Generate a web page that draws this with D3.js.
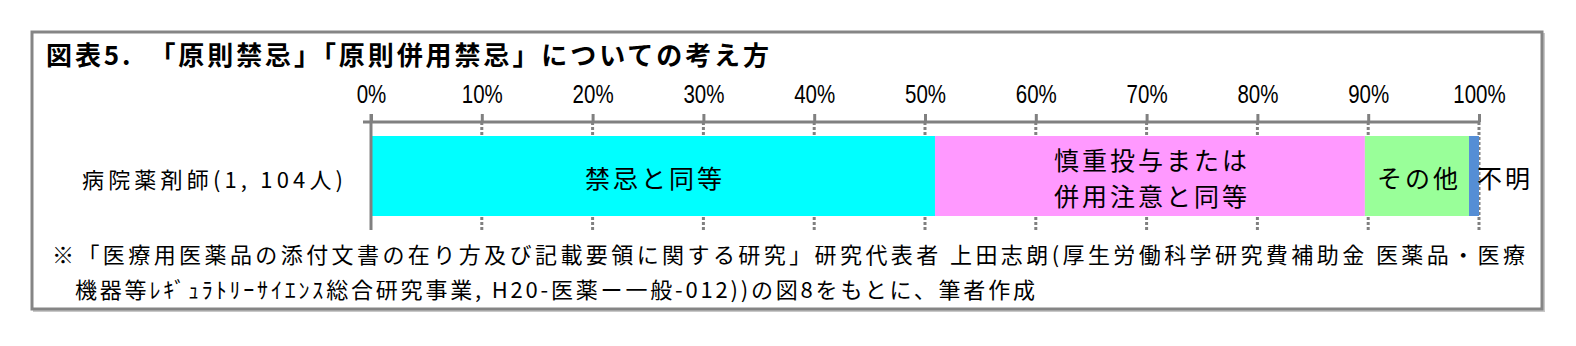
<!DOCTYPE html>
<html>
<head>
<meta charset="utf-8">
<script src="https://cdn.jsdelivr.net/npm/d3@7"></script>
<style>
  body { margin: 0; background: #fff; }
  svg { display: block; }
  .jp { font-family: 'Noto Sans CJK JP', sans-serif; fill: #000; }
  .tick text { font-family: 'Liberation Sans', Arial, sans-serif; font-size: 25px; fill: #000; }
</style>
</head>
<body>
<svg width="1576" height="346"></svg>
<script>
// data
var title = '図表5.　「原則禁忌」「原則併用禁忌」についての考え方';
var categories = ['病院薬剤師(1, 104人)'];
var segments = ['禁忌と同等', '慎重投与または併用注意と同等', 'その他', '不明'];
var segmentLines = [['禁忌と同等'], ['慎重投与または', '併用注意と同等'], ['その他'], ['不明']];
var values = [50.9, 38.8, 9.4, 0.9];
var tickValues = [0, 10, 20, 30, 40, 50, 60, 70, 80, 90, 100];
var notes = [
    '※「医療用医薬品の添付文書の在り方及び記載要領に関する研究」研究代表者 上田志朗(厚生労働科学研究費補助金 医薬品・医療',
    '機器等ﾚｷﾞｭﾗﾄﾘｰｻｲｴﾝｽ総合研究事業, H20-医薬ー一般-012))の図8をもとに、筆者作成'
];

var colors = ['#00ffff', '#ff99ff', '#99ff99', '#558ed5'];

var svg = d3.select('svg');

// frame
svg.append('rect')
    .attr('x', 34).attr('y', 34)
    .attr('width', 1510).attr('height', 277)
    .attr('fill', 'none').attr('stroke', '#c8c8c8').attr('stroke-width', 2);
svg.append('rect')
    .attr('x', 32).attr('y', 32)
    .attr('width', 1510).attr('height', 277)
    .attr('fill', '#fff').attr('stroke', '#858585').attr('stroke-width', 3);

svg.append('text')
    .attr('class', 'jp')
    .attr('x', 46).attr('y', 65)
    .attr('font-size', 26).attr('font-weight', 'bold')
    .attr('textLength', 723).attr('lengthAdjust', 'spacing')
    .text(title);

var xScale = d3.scaleLinear().domain([0, 100]).range([371, 1479]);
var yScale = d3.scaleBand().domain(categories).range([136, 216]).padding(0);

var axisY = 122;

// dashed gridlines (behind the bar)
svg.append('g').selectAll('line')
    .data(tickValues.slice(1))
    .enter().append('line')
    .attr('x1', function (d) { return xScale(d); })
    .attr('x2', function (d) { return xScale(d); })
    .attr('y1', axisY).attr('y2', 230)
    .attr('stroke', '#808080').attr('stroke-width', 3)
    .attr('stroke-dasharray', '3,2');

// stacked bar
var stack = [];
var acc = 0;
values.forEach(function (v, i) {
    stack.push({ name: segments[i], lines: segmentLines[i], x0: acc, x1: acc + v, i: i });
    acc += v;
});

var bar = svg.append('g');
bar.selectAll('rect')
    .data(stack)
    .enter().append('rect')
    .attr('x', function (d) { return xScale(d.x0); })
    .attr('width', function (d) { return xScale(d.x1) - xScale(d.x0); })
    .attr('y', yScale(categories[0]))
    .attr('height', yScale.bandwidth())
    .attr('fill', function (d) { return colors[d.i]; });

var cy = yScale(categories[0]) + yScale.bandwidth() / 2 + 1;
var labels = bar.selectAll('text.seg')
    .data(stack)
    .enter().append('text')
    .attr('class', 'jp seg')
    .attr('font-size', 25)
    .attr('letter-spacing', 3)
    .attr('dominant-baseline', 'central')
    .attr('text-anchor', function (d) { return d.i === 3 ? 'start' : 'middle'; })
    .attr('x', function (d) {
        return d.i === 3 ? xScale(d.x1) - 2 : (xScale(d.x0) + xScale(d.x1)) / 2 + 2;
    });
labels.selectAll('tspan')
    .data(function (d) { return d.lines.map(function (l, k) { return { l: l, k: k, n: d.lines.length }; }); })
    .enter().append('tspan')
    .attr('x', function () { return d3.select(this.parentNode).attr('x'); })
    .attr('y', function (d) { return cy + (d.k - (d.n - 1) / 2) * 36; })
    .text(function (d) { return d.l; });

// axis
var axis = svg.append('g')
    .attr('transform', 'translate(0,' + axisY + ')')
    .call(d3.axisTop(xScale)
        .tickValues(tickValues)
        .tickSize(8)
        .tickSizeOuter(0)
        .tickPadding(11)
        .tickFormat(function (d) { return d + '%'; }));
axis.select('.domain').remove();
axis.selectAll('.tick line').attr('stroke', '#808080').attr('stroke-width', 3);
// narrow digits like the original
axis.selectAll('.tick text').attr('transform', 'scale(0.82,1)');
axis.append('line')
    .attr('x1', xScale(0) - 8).attr('x2', xScale(100) + 1)
    .attr('y1', 0).attr('y2', 0)
    .attr('stroke', '#808080').attr('stroke-width', 3);

// vertical axis line
svg.append('line')
    .attr('x1', xScale(0)).attr('x2', xScale(0))
    .attr('y1', axisY - 8).attr('y2', 230)
    .attr('stroke', '#808080').attr('stroke-width', 3);

// category label
svg.append('g').selectAll('text')
    .data(categories)
    .enter().append('text')
    .attr('class', 'jp')
    .attr('x', 343)
    .attr('y', function (d) { return yScale(d) + yScale.bandwidth() / 2 + 2; })
    .attr('text-anchor', 'end')
    .attr('dominant-baseline', 'central')
    .attr('font-size', 22)
    .attr('textLength', 261).attr('lengthAdjust', 'spacing')
    .text(function (d) { return d; });

// footnote
var noteX = [52, 75];
var noteY = [253, 288];
var noteLen = [1473, 960];
svg.append('g').selectAll('text')
    .data(notes)
    .enter().append('text')
    .attr('class', 'jp')
    .attr('x', function (d, i) { return noteX[i]; })
    .attr('y', function (d, i) { return noteY[i]; })
    .attr('dominant-baseline', 'central')
    .attr('font-size', 22)
    .attr('textLength', function (d, i) { return noteLen[i]; })
    .attr('lengthAdjust', 'spacing')
    .text(function (d) { return d; });
</script>
</body>
</html>
